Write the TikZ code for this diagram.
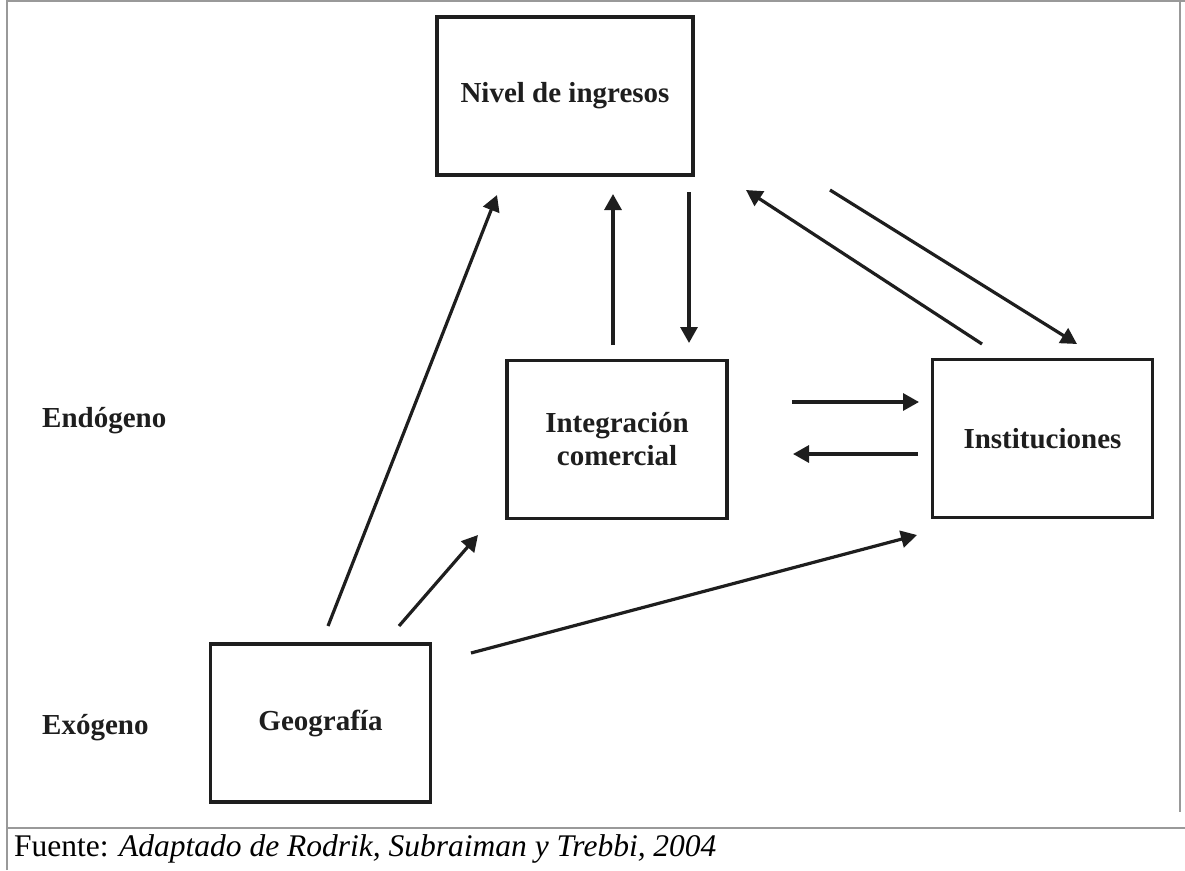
\documentclass[tikz,border=0pt]{standalone}
\usepackage{fontspec}
\setmainfont{Liberation Serif}
\usetikzlibrary{arrows.meta}
\definecolor{framegray}{HTML}{999999}
\definecolor{ink}{HTML}{1E1E1E}
\tikzset{
  box/.style={draw=ink, line width=3.5pt, minimum width=#1, minimum height=158pt, inner sep=0pt, align=center, font=\bfseries\fontsize{29}{33}\selectfont, text=ink},
  box/.default=220pt,
  sidelabel/.style={anchor=west, inner sep=0pt, font=\bfseries\fontsize{29}{33}\selectfont, text=ink},
  conn/.style={draw=ink, line width=3.2pt, -{Triangle[length=16pt,width=17pt]}},
  frame/.style={draw=framegray, line width=2.2pt}
}
\begin{document}
\begin{tikzpicture}[x=1pt,y=-1pt]
\useasboundingbox (0,0) rectangle (1185,870);
% frame
\draw[frame] (7,870) -- (7,1) -- (1185,1);
\draw[frame] (1180,1) -- (1180,812);
\draw[frame] (7,828) -- (1185,828);
% boxes
\node[box=256pt] (niv) at (565,96) {Nivel de ingresos};
\node[box] (int) at (617,439.5) {Integración\\comercial};
\node[box] (ins) at (1042.5,438.5) {Instituciones};
\node[box] (geo) at (320.5,723) {Geografía};
% side labels
\node[sidelabel] (endo) at (42,421) {Endógeno};
\node[sidelabel] (exo) at (42,728) {Exógeno};
% caption
\node[anchor=base west, inner sep=0pt, font=\fontsize{31.5}{36}\selectfont] (cap) at (14,856) {Fuente: \textit{Adaptado de Rodrik, Subraiman y Trebbi, 2004}};
% connector end points
\coordinate (g1s) at (328,626); \coordinate (g1e) at (497,195);
\coordinate (g2s) at (399,626); \coordinate (g2e) at (478,535);
\coordinate (g3s) at (471,653); \coordinate (g3e) at (917,535);
\coordinate (iups) at (613,345); \coordinate (iupe) at (613,194);
\coordinate (ndns) at (689,192); \coordinate (ndne) at (689,343);
\coordinate (sups) at (982,344); \coordinate (supe) at (746,190);
\coordinate (sdns) at (830,190); \coordinate (sdne) at (1077,344);
\coordinate (hrs) at (792,402); \coordinate (hre) at (919,402);
\coordinate (hls) at (918,454); \coordinate (hle) at (793,454);
% connectors
\draw[conn] (g1s) -- (g1e);
\draw[conn] (g2s) -- (g2e);
\draw[conn] (g3s) -- (g3e);
\draw[conn] (iups) -- (iupe);
\draw[conn] (ndns) -- (ndne);
\draw[conn] (sups) -- (supe);
\draw[conn] (sdns) -- (sdne);
\draw[conn] (hrs) -- (hre);
\draw[conn] (hls) -- (hle);
\end{tikzpicture}
\end{document}
